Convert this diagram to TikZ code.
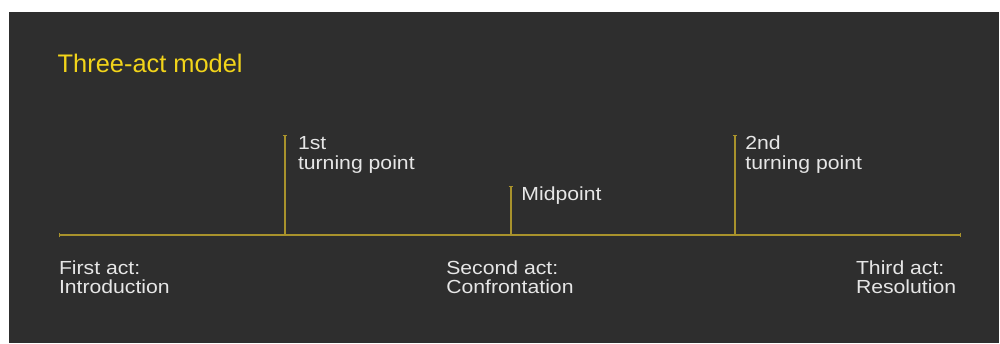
\documentclass[tikz,border=0pt]{standalone}
\usepackage{fontspec}
\usetikzlibrary{arrows.meta}
\newfontfamily\titlefont{Liberation Sans}
\newfontfamily\bodyfont{Liberation Sans}[FakeStretch=1.12]
\definecolor{bgdark}{HTML}{2E2E2E}
\definecolor{titleyellow}{HTML}{F2D41A}
\definecolor{linegold}{HTML}{A8922C}
\definecolor{labelgray}{HTML}{E6E6E6}
\newcommand\lblpair[2]{\vtop{\baselineskip=20pt\hbox{#1}\hbox{#2}}}
\tikzset{
  bodylabel/.style={anchor=base west, inner sep=0pt, outer sep=0pt, text=labelgray, font=\bodyfont\fontsize{19}{20}\selectfont},
  titlelabel/.style={anchor=base west, inner sep=0pt, outer sep=0pt, text=titleyellow, font=\titlefont\fontsize{25.5}{30}\selectfont},
  axisline/.style={draw=linegold, line width=2bp, {Bar[width=5pt,line width=1.4pt]}-{Bar[width=5pt,line width=1.4pt]}},
  tickline/.style={draw=linegold, line width=2bp, -{Bar[width=5pt,line width=1.4pt]}}
}
\begin{document}
\begin{tikzpicture}[x=1bp,y=-1bp]
\useasboundingbox (0,0) rectangle (1000,343);
\fill[white] (0,0) rectangle (1000,343);
\fill[bgdark] (9,12) rectangle (999,343);
\node[titlelabel] (title) at (57.7,72.3) {Three-act model};
% axis
\coordinate (axL) at (59,235);
\coordinate (axR) at (961,235);
\draw[axisline] (axL) -- (axR);
% ticks
\coordinate (b1) at (285,235);
\coordinate (t1) at (285,135);
\coordinate (bm) at (511,235);
\coordinate (tm) at (511,185.5);
\coordinate (b2) at (735,235);
\coordinate (t2) at (735,135);
\draw[tickline] (b1) -- (t1);
\draw[tickline] (bm) -- (tm);
\draw[tickline] (b2) -- (t2);
% top labels
\node[bodylabel] (tp1) at (298,149.3) {\lblpair{1st}{turning point}};
\node[bodylabel] (mid) at (521.4,200) {Midpoint};
\node[bodylabel] (tp2) at (745.4,149.3) {\lblpair{2nd}{turning point}};
% bottom labels
\node[bodylabel] (act1) at (59,274) {\lblpair{First act:}{Introduction}};
\node[bodylabel] (act2) at (446.3,274) {\lblpair{Second act:}{Confrontation}};
\node[bodylabel] (act3) at (856,274) {\lblpair{Third act:}{Resolution}};
\end{tikzpicture}
\end{document}
